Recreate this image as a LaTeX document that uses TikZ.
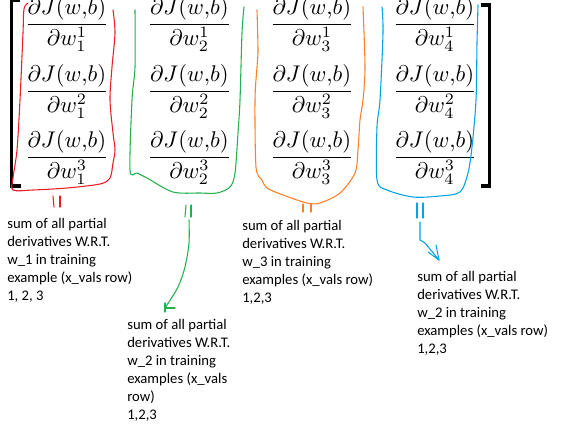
\documentclass[tikz,border=0pt]{standalone}
\usepackage{fontspec}
\setmainfont{Carlito}
\usepackage{graphicx}
\definecolor{pred}{RGB}{237,28,36}
\definecolor{pgreen}{RGB}{34,177,76}
\definecolor{porange}{RGB}{255,127,39}
\definecolor{pblue}{RGB}{0,162,232}
\newcommand{\pd}[2]{\scalebox{1.7}{$\displaystyle\frac{\partial J(w{,}b)}{\partial w^{#1}_{#2}}$}}
\tikzset{
  fracnode/.style={anchor=base, inner sep=0pt},
  note/.style={anchor=base west, inner sep=0pt, align=left, font=\fontsize{11}{13.5}\selectfont},
  pen/.style={line width=0.8pt, line cap=round, line join=round},
  brack/.style={line width=2.3pt, line cap=butt},
}
\begin{document}
\begin{tikzpicture}[x=0.75pt, y=-0.75pt]
\useasboundingbox (0,0) rectangle (561,428);
% fractions: columns x, bar rows y (+5 for axis)
\foreach \c/\cx in {1/67, 2/189.5, 3/312, 4/435}{
  \foreach \r/\ry in {1/25, 2/92, 3/158}{
    \node[fracnode] (f\r\c) at (\cx,\ry+5) {\pd{\r}{\c}};
  }
}
% brackets
\draw[brack] (20,0.5) -- (11.5,0.5) -- (11.5,186) -- (21,186);
\draw[brack] (481,5) -- (489.5,5) -- (489.5,186) -- (481,186);
% red outline
\draw[pen, pred] plot[smooth, tension=0.5] coordinates {(28,3) (24,9) (23,33) (20,100) (17,150) (13,178) (13,190) (33,190) (67,188) (100,184) (110,178) (113,163) (115,150) (113,133) (110,100) (112,67) (115,33) (113,10)};
\draw[pen, pred] (53,196) -- (54,207);
\draw[pen, pred] (60,196) -- (60,207);
% green outline
\draw[pen, pgreen] plot[smooth, tension=0.5] coordinates {(135,10) (135,67) (132,100) (130,170) (137,173) (147,178) (173,192) (200,193) (217,193) (230,187) (235,173) (238,133) (240,100) (242,33) (244,7)};
\draw[pen, pgreen] (186,205) -- (185,217);
\draw[pen, pgreen] (191,205) -- (191,217);
\coordinate (gtip) at (165,308);
\draw[pen, pgreen] plot[smooth, tension=0.5] coordinates {(189,220) (189,243) (185,267) (178,287) (165,308)};
\draw[pen, pgreen] (gtip) -- ++(10,0);
\draw[pen, pgreen] (165,303) -- (165,312);
% orange outline
\draw[pen, porange] plot[smooth, tension=0.5] coordinates {(257,10) (258,50) (257,67) (255,100) (256,167) (262,180) (267,188) (283,195) (307,203) (320,203) (340,193) (355,173) (358,150) (360,120) (363,100) (365,67) (363,7)};
\draw[pen, porange] (303,204) -- (303,212);
\draw[pen, porange] (311,204) -- (311,212);
% blue outline
\draw[pen, pblue] plot[smooth, tension=0.5] coordinates {(382,7) (383,33) (380,100) (377,127) (377,180) (387,190) (413,197) (440,196) (460,192) (468,173) (472,147) (476,100) (477,43) (478,5)};
\draw[pen, pblue] (417,203) -- (417,218);
\draw[pen, pblue] (423,203) -- (423,218);
\coordinate (btip) at (439,260);
\draw[pen, pblue] (420,222) -- (420,240) -- (425,243) -- (btip);
\draw[pen, pblue] (btip) -- (428,252);
\draw[pen, pblue] (btip) -- (436,245);
% notes (anchored at the baseline of their last line)
\node[note] (n1) at (7,300) {sum of all partial\\derivatives W.R.T.\\w\_1 in training\\example (x\_vals row)\\1, 2, 3};
\node[note] (n2) at (127,419) {sum of all partial\\derivatives W.R.T.\\w\_2 in training\\examples (x\_vals\\row)\\1,2,3};
\node[note] (n3) at (242,302) {sum of all partial\\derivatives W.R.T.\\w\_3 in training\\examples (x\_vals row)\\1,2,3};
\node[note] (n4) at (417,353) {sum of all partial\\derivatives W.R.T.\\w\_2 in training\\examples (x\_vals row)\\1,2,3};
\end{tikzpicture}
\end{document}
